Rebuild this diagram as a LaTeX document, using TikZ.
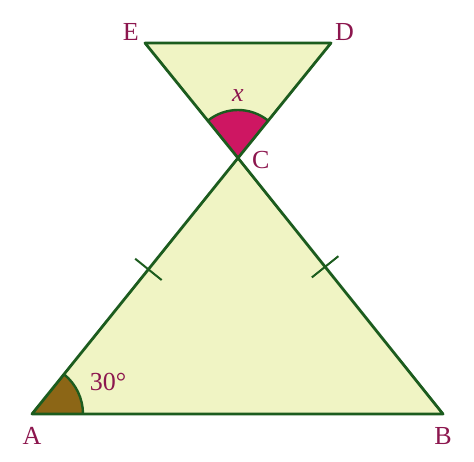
\documentclass[tikz,border=0pt]{standalone}
\usepackage{fontspec}
\setmainfont{Liberation Serif}
\usetikzlibrary{angles, calc, positioning}
\definecolor{paleyel}{RGB}{240,244,196}
\definecolor{darkgrn}{RGB}{28,92,30}
\definecolor{plum}{RGB}{140,22,78}
\definecolor{crimson}{RGB}{206,22,98}
\definecolor{ochre}{RGB}{140,102,22}
\tikzset{x = 1pt, y = -1pt,
         side/.style = {draw = darkgrn, line width = 2.8pt, line join = round},
         tri/.style = {fill = paleyel},
         tick/.style = {draw = darkgrn, line width = 2pt},
         lbl/.style = {text = plum, inner sep = 0pt,
                       font = \fontsize{26}{28}\selectfont},
         angx/.style = {draw = darkgrn, line width = 2.4pt, fill = crimson,
                        angle radius = 48pt},
         angA/.style = {draw = darkgrn, line width = 2.4pt, fill = ochre,
                        angle radius = 51pt}}

\begin{document}
\begin{tikzpicture}
        \useasboundingbox (0,0) rectangle (474,461);

        \coordinate (A) at (32,414);
        \coordinate (B) at (443,414);
        \coordinate (C) at (238,158);
        \coordinate (E) at (145,43);
        \coordinate (D) at (331,43);

        \fill[tri] (A) -- (B) -- (C) -- cycle;
        \fill[tri] (C) -- (D) -- (E) -- cycle;

        \pic[angA] {angle = B--A--C};
        \pic[angx] {angle = D--C--E};

        \draw[side] (A) -- (B) -- (C) -- cycle;
        \draw[side] (C) -- (D) -- (E) -- cycle;

        % equal sides
        \draw[tick] ($(A)!0.565!(C)!17pt!90:(C)$) -- ($(A)!0.565!(C)!17pt!-90:(C)$);
        \draw[tick] ($(B)!0.575!(C)!17pt!90:(C)$) -- ($(B)!0.575!(C)!17pt!-90:(C)$);

        \node[lbl] (la) [below = 13pt of A]               {A};
        \node[lbl] (lb) [below = 13pt of B]               {B};
        \node[lbl] (lc) [right = 14pt of C, yshift = -2pt] {C};
        \node[lbl] (ld) [above right = 2pt and 4pt of D]  {D};
        \node[lbl] (le) [above left = 2pt and 6pt of E]   {E};

        \node[lbl] (lx) at ($(C)+(0,-62)$) {\textit{x}};
        \node[lbl] (l30) at ($(A)+(76,-32)$) {30°};
      \end{tikzpicture}
\end{document}
